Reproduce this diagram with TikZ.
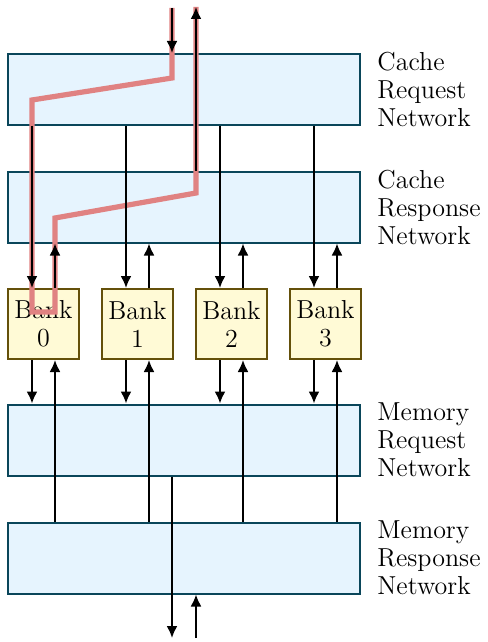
\documentclass[tikz,border=0pt]{standalone}
\usetikzlibrary{positioning, arrows.meta}

\definecolor{netfill}{RGB}{230,244,254}
\definecolor{netdraw}{RGB}{10,70,90}
\definecolor{bankfill}{RGB}{255,250,214}
\definecolor{bankdraw}{RGB}{100,80,10}
\definecolor{pathred}{RGB}{224,130,130}

\begin{document}
\begin{tikzpicture}[
    x=0.5pt, y=-0.5pt, % one unit is one pixel of the sketch
    font=\fontsize{13}{14}\selectfont,
    % Styles for the networks, banks and lines
    net/.style={rectangle, draw=netdraw, fill=netfill, line width=1pt, minimum width=176pt, minimum height=35.5pt, inner sep=0pt},
    bank/.style={rectangle, draw=bankdraw, fill=bankfill, line width=1pt, minimum width=35.5pt, minimum height=35pt, inner sep=0pt, align=center},
    netlabel/.style={align=left, inner sep=0pt},
    node distance=8pt and 10.5pt, % gap between the banks
    line/.style={
        draw, line width=1pt,
        -{Latex[length=6pt,width=5.5pt]}
    },
    redpath/.style={draw=pathred, line width=2.6pt, line join=miter}
]
\useasboundingbox (0,0) rectangle (487,642);

% Networks
\node [net] (creq)  at (184,89.5) {};
\node [net] (cresp) at (184,207) {};
\node [net] (mreq)  at (184,440) {};
\node [net] (mresp) at (184,558) {};

\node [netlabel, right=8pt of creq]  {Cache\\Request\\Network};
\node [netlabel, right=8pt of cresp] {Cache\\Response\\Network};
\node [netlabel, right=8pt of mreq]  {Memory\\Request\\Network};
\node [netlabel, right=8pt of mresp] {Memory\\Response\\Network};

% Banks
\node [bank] (bank0) at (43.5,324) {Bank\\0};
\node [bank, right=of bank0] (bank1) {Bank\\1};
\node [bank, right=of bank1] (bank2) {Bank\\2};
\node [bank, right=of bank2] (bank3) {Bank\\3};

% Outside ports
\coordinate (topin)  at (172,8);
\coordinate (topout) at (196,7);
\coordinate (memout) at (172,638);
\coordinate (memin)  at (196,638);

% Path of one request and its response
\path [redpath] (topin) -- (172,78) -- (32,100) -- (32,312) -- (55,312)
    -- (55,218) -- (196,193) -- (topout);

\foreach \i in {0,...,3} {
    \coordinate (dn\i) at ([xshift=-5.75pt]bank\i.center);
    \coordinate (up\i) at ([xshift=5.75pt]bank\i.center);
    \path [line] (creq.south -| dn\i) -- (bank\i.north -| dn\i);
    \path [line] (bank\i.north -| up\i) -- (cresp.south -| up\i);
    \path [line] (bank\i.south -| dn\i) -- (mreq.north -| dn\i);
    \path [line] (mresp.north -| up\i) -- (bank\i.south -| up\i);
}

\path [line] (topin) -- (creq.north -| topin);
\path [line] (cresp.north -| topout) -- (topout);
\path [line] (mreq.south -| memout) -- (memout);
\path [line] (memin) -- (mresp.south -| memin);

\end{tikzpicture}
\end{document}
